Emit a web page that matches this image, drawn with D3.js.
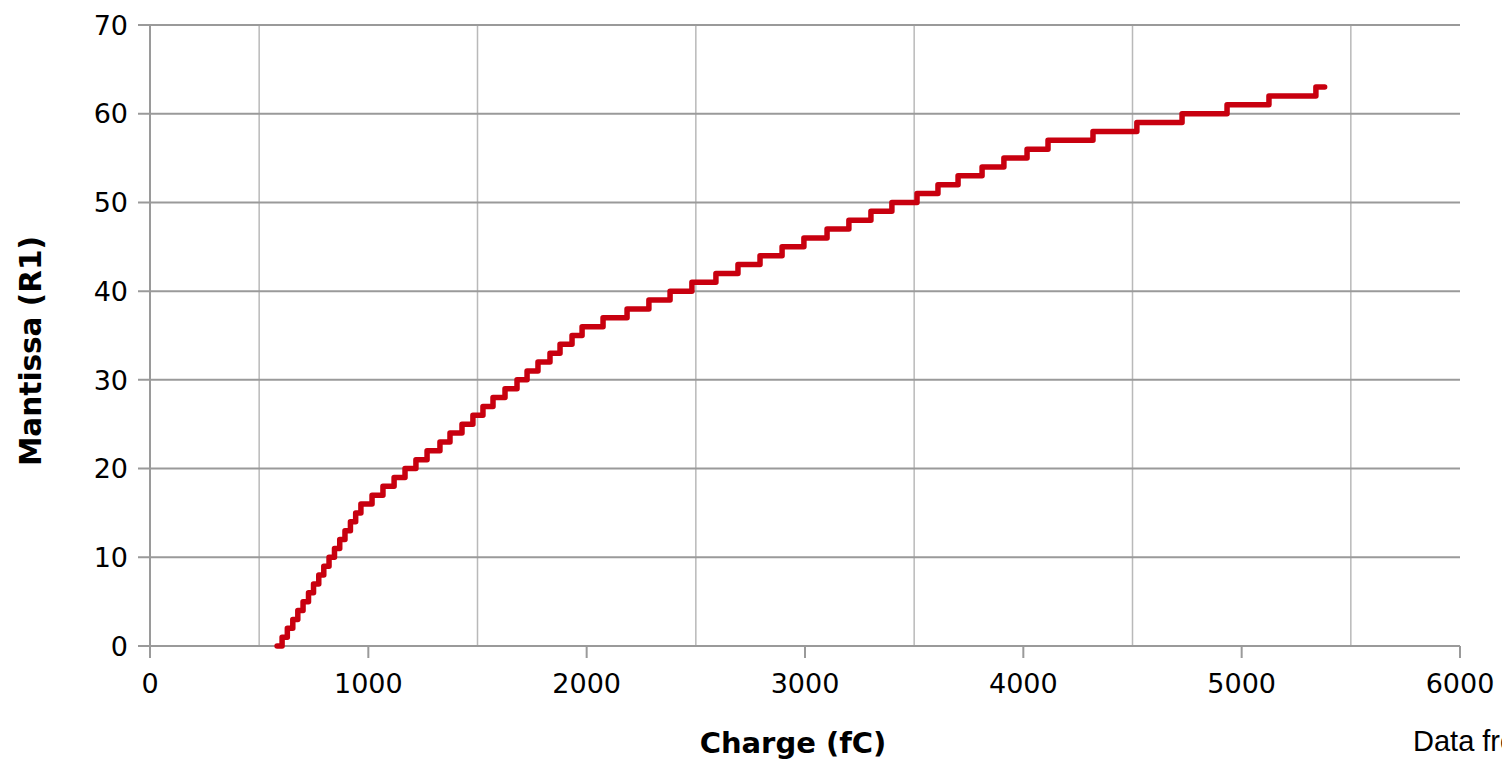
<!DOCTYPE html>
<html>
<head>
<meta charset="utf-8">
<script src="https://cdn.jsdelivr.net/npm/d3@7"></script>
<style>
  html, body { margin: 0; padding: 0; background: #fff; overflow: hidden; }
  svg text { font-family: "DejaVu Sans", sans-serif; fill: #000; }
</style>
</head>
<body>
<div id="chart"></div>
<script>
// Mantissa levels (R1) and the charge (fC) where each level starts
const mantissaLevels = [
  0, 1, 2, 3, 4, 5, 6, 7, 8, 9, 10, 11, 12, 13, 14, 15, 16,
  17, 18, 19, 20, 21, 22, 23, 24, 25, 26, 27, 28, 29, 30, 31, 32, 33, 34, 35,
  36, 37, 38, 39, 40, 41, 42, 43, 44, 45, 46, 47, 48, 49, 50,
  51, 52, 53, 54, 55, 56, 57, 58, 59, 60, 61, 62, 63
];
const stepCharge = [
  582, 605, 629, 654, 677, 701, 726, 749, 773, 796, 820, 845, 869, 893, 918, 942, 966,
  1017, 1067, 1118, 1168, 1218, 1269, 1328, 1374, 1429, 1479, 1525, 1571, 1626, 1681, 1727, 1777, 1832, 1878, 1933,
  1979, 2075, 2185, 2285, 2382, 2482, 2592, 2693, 2794, 2895, 2995, 3101, 3201, 3302, 3398,
  3513, 3609, 3701, 3811, 3911, 4017, 4113, 4319, 4520, 4727, 4933, 5125, 5340
];
const lastCharge = 5380;

const xTicks = [0, 1000, 2000, 3000, 4000, 5000, 6000];
const xMinorGrid = [500, 1500, 2500, 3500, 4500, 5500];
const yTicks = [0, 10, 20, 30, 40, 50, 60, 70];

const W = 1502, H = 760;
const margin = { top: 25, right: 42, bottom: 114, left: 150 };
const width = W - margin.left - margin.right;
const height = H - margin.top - margin.bottom;

const svg = d3.select("#chart")
  .append("svg")
  .attr("width", W)
  .attr("height", H);

const g = svg.append("g")
  .attr("transform", `translate(${margin.left},${margin.top})`);

const x = d3.scaleLinear().domain([0, 6000]).range([0, width]);
const y = d3.scaleLinear().domain([0, 70]).range([height, 0]);

// vertical grid (only the odd 500s)
g.selectAll(".vgrid")
  .data(xMinorGrid)
  .enter()
  .append("line")
  .attr("x1", d => x(d)).attr("x2", d => x(d))
  .attr("y1", 0).attr("y2", height)
  .attr("stroke", "#b9b9b9")
  .attr("stroke-width", 1.5);

// horizontal grid + left ticks
g.selectAll(".hgrid")
  .data(yTicks)
  .enter()
  .append("line")
  .attr("x1", -12).attr("x2", width)
  .attr("y1", d => y(d)).attr("y2", d => y(d))
  .attr("stroke", "#9a9a9a")
  .attr("stroke-width", 2);

// left axis line
g.append("line")
  .attr("x1", 0).attr("x2", 0)
  .attr("y1", 0).attr("y2", height)
  .attr("stroke", "#9a9a9a")
  .attr("stroke-width", 2);

// bottom ticks
g.selectAll(".xtick")
  .data(xTicks)
  .enter()
  .append("line")
  .attr("x1", d => x(d)).attr("x2", d => x(d))
  .attr("y1", height).attr("y2", height + 12)
  .attr("stroke", "#9a9a9a")
  .attr("stroke-width", 2);

// tick labels
g.selectAll(".xlabel")
  .data(xTicks)
  .enter()
  .append("text")
  .attr("x", d => x(d))
  .attr("y", height + 47)
  .attr("text-anchor", "middle")
  .style("font-size", "27px")
  .text(d => d);

g.selectAll(".ylabel")
  .data(yTicks)
  .enter()
  .append("text")
  .attr("x", -22)
  .attr("y", d => y(d))
  .attr("dy", "0.36em")
  .attr("text-anchor", "end")
  .style("font-size", "27px")
  .text(d => d);

// series
const points = mantissaLevels.map((m, i) => [stepCharge[i], m]);
points.push([lastCharge, mantissaLevels[mantissaLevels.length - 1]]);

const line = d3.line()
  .x(d => x(d[0]))
  .y(d => y(d[1]))
  .curve(d3.curveStepAfter);

g.append("path")
  .datum(points)
  .attr("d", line)
  .attr("fill", "none")
  .attr("stroke", "#c8000f")
  .attr("stroke-width", 5.5)
  .attr("stroke-linejoin", "round")
  .attr("stroke-linecap", "round");

// axis titles
svg.append("text")
  .attr("x", 793)
  .attr("y", 753)
  .attr("text-anchor", "middle")
  .style("font-size", "29px")
  .style("font-weight", "bold")
  .text("Charge (fC)");

svg.append("text")
  .attr("transform", `translate(41,351) rotate(-90)`)
  .attr("text-anchor", "middle")
  .style("font-size", "29.5px")
  .style("font-weight", "bold")
  .text("Mantissa (R1)");

// source note, cut by the right edge as in the original
svg.append("text")
  .attr("x", 1413)
  .attr("y", 751)
  .style("font-family", "'Liberation Sans', Arial, sans-serif")
  .style("font-size", "29px")
  .text("Data from");
</script>
</body>
</html>
